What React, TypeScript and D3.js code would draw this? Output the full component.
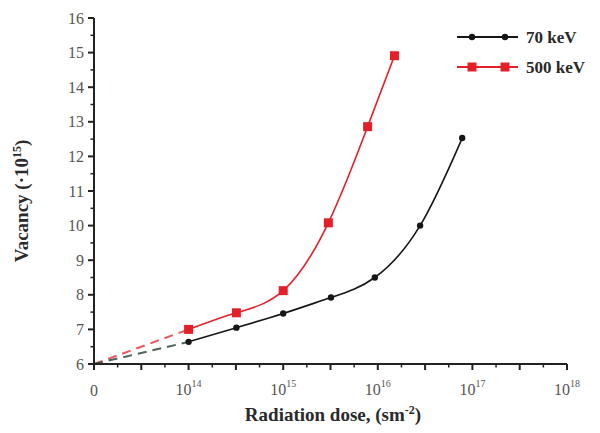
import React from "react";
import * as d3 from "d3";

// 70 keV series
const dose70 = [1e14, 3.2e14, 1e15, 3.2e15, 9.3e15, 2.8e16, 7.8e16];
const vac70 = [6.64, 7.05, 7.46, 7.92, 8.5, 10.0, 12.53];
// 500 keV series
const dose500 = [1e14, 3.2e14, 1e15, 3e15, 7.8e15, 1.5e16];
const vac500 = [7.0, 7.48, 8.12, 10.08, 12.86, 14.91];

const originDose = 1e13;
const originVac = 6;
const xExps = [14, 15, 16, 17, 18];
const yTicks = [6, 7, 8, 9, 10, 11, 12, 13, 14, 15, 16];
const seriesNames = ["70 keV", "500 keV"];

const W = 600;
const H = 433;
const serif = "'Liberation Serif', 'Times New Roman', serif";

export default function App() {
  const x = d3.scaleLog().domain([1e13, 1e18]).range([94, 567]);
  const y = d3.scaleLinear().domain([6, 16]).range([364, 18]);

  const line = d3
    .line<[number, number]>()
    .x((d) => x(d[0]))
    .y((d) => y(d[1]))
    .curve(d3.curveNatural);

  const straight = d3
    .line<[number, number]>()
    .x((d) => x(d[0]))
    .y((d) => y(d[1]));

  const pts70: [number, number][] = dose70.map((d, i) => [d, vac70[i]]);
  const pts500: [number, number][] = dose500.map((d, i) => [d, vac500[i]]);

  const dash70 = straight([[originDose, originVac], pts70[0]]);
  const dash500 = straight([[originDose, originVac], pts500[0]]);

  // quarter-decade ticks on x, half-unit ticks on y
  const xMinor = d3.range(13, 18.001, 0.25);
  const yMinor = d3.range(6, 16.001, 0.5);

  const black = "#161616";
  const red = "#e3202a";
  const legendX = [457, 518];
  const legendY = [37, 67];

  return (
    <svg width={W} height={H} style={{ position: "absolute", left: 0, top: 0, background: "#fff" }}>
      {/* dashed extrapolation to origin */}
      <path d={dash500 || ""} fill="none" stroke={red} strokeWidth={2} strokeDasharray="9,6" opacity={0.75} />
      <path d={dash70 || ""} fill="none" stroke="#2d4a3a" strokeWidth={2} strokeDasharray="9,6" opacity={0.85} />

      {/* curves */}
      <path d={line(pts70) || ""} fill="none" stroke={black} strokeWidth={1.6} />
      <path d={line(pts500) || ""} fill="none" stroke={red} strokeWidth={1.6} />

      {pts70.map((p, i) => (
        <circle key={"b" + i} cx={x(p[0])} cy={y(p[1])} r={3.2} fill={black} />
      ))}
      {pts500.map((p, i) => (
        <rect key={"r" + i} x={x(p[0]) - 4.5} y={y(p[1]) - 4.5} width={9} height={9} fill={red} />
      ))}

      {/* axes */}
      <g stroke="#222" strokeWidth={2}>
        <line x1={x(1e13)} x2={x(1e18)} y1={364} y2={364} />
        <line x1={94} x2={94} y1={y(16)} y2={364} />
        {xMinor.map((e, i) => {
          const major = i % 2 === 0;
          return <line key={"xt" + i} x1={x(Math.pow(10, e))} x2={x(Math.pow(10, e))} y1={364} y2={364 + (major ? 6 : 3.5)} strokeWidth={major ? 2 : 1.5} />;
        })}
        {yMinor.map((v, i) => {
          const major = i % 2 === 0;
          return <line key={"yt" + i} x1={94 - (major ? 6 : 3.5)} x2={94} y1={y(v)} y2={y(v)} strokeWidth={major ? 2 : 1.5} />;
        })}
      </g>

      {/* tick labels */}
      <g fontFamily={serif} fontSize={16} fill="#555">
        {yTicks.map((v) => (
          <text key={"yl" + v} x={84} y={y(v)} dy="0.35em" textAnchor="end">
            {v}
          </text>
        ))}
        <text x={x(originDose)} y={396} textAnchor="middle">0</text>
        {xExps.map((e) => (
          <text key={"xl" + e} x={x(Math.pow(10, e))} y={395} textAnchor="middle">
            10
            <tspan fontSize={10} dy={-8}>{e}</tspan>
          </text>
        ))}
      </g>

      {/* axis titles */}
      <text x={333} y={421} textAnchor="middle" fontFamily={serif} fontWeight="bold" fontSize={19} fill="#2a2a2a">
        Radiation dose, (sm
        <tspan fontSize={12} dy={-7}>-2</tspan>
        <tspan dy={7}>)</tspan>
      </text>
      <text
        transform="translate(28,201) rotate(-90)"
        textAnchor="middle"
        fontFamily={serif}
        fontWeight="bold"
        fontSize={19}
        fill="#2a2a2a"
      >
        Vacancy (·10
        <tspan fontSize={12} dy={-7}>15</tspan>
        <tspan dy={7}>)</tspan>
      </text>

      {/* legend */}
      {seriesNames.map((name, i) => {
        const c = i === 0 ? black : red;
        const ly = legendY[i];
        return (
          <g key={name}>
            <line x1={legendX[0]} x2={legendX[1]} y1={ly} y2={ly} stroke={c} strokeWidth={1.8} />
            {[472, 505].map((mx) =>
              i === 0 ? (
                <circle key={mx} cx={mx} cy={ly} r={3.2} fill={c} />
              ) : (
                <rect key={mx} x={mx - 4.5} y={ly - 4.5} width={9} height={9} fill={c} />
              )
            )}
            <text x={526} y={ly} dy="0.35em" fontFamily={serif} fontWeight="bold" fontSize={17} fill="#2a2a2a">
              {name}
            </text>
          </g>
        );
      })}
    </svg>
  );
}
